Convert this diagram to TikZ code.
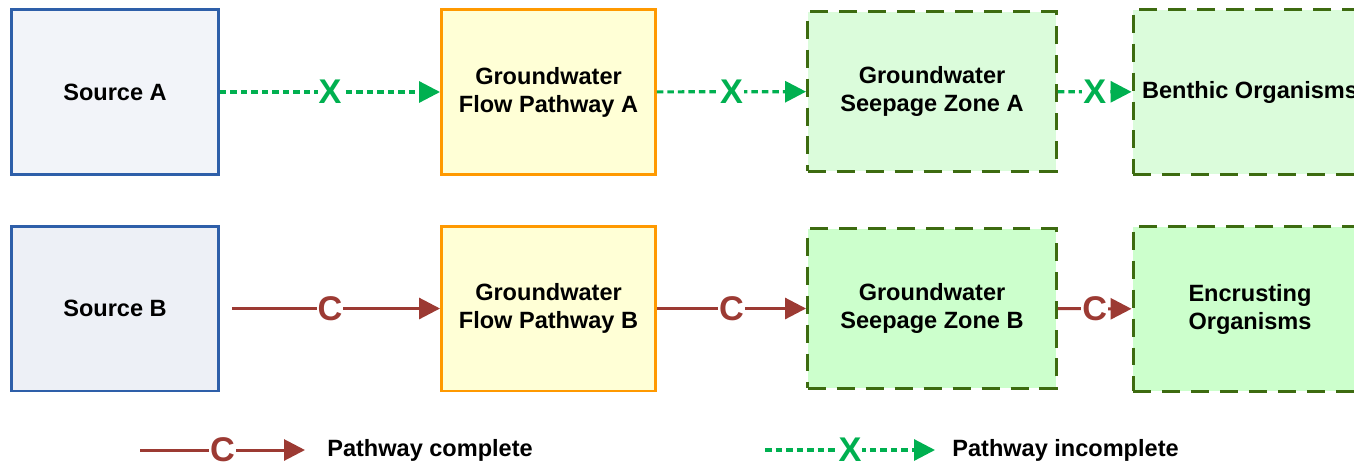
\documentclass[tikz,border=0pt]{standalone}
\usepackage{fontspec}
\setmainfont{Liberation Sans}
\usetikzlibrary{arrows.meta}

\definecolor{srcline}{HTML}{2E5FA9}
\definecolor{srcfillA}{HTML}{F2F4F9}
\definecolor{srcfillB}{HTML}{EDF0F6}
\definecolor{flowline}{HTML}{FF9900}
\definecolor{flowfill}{HTML}{FFFFD6}
\definecolor{zoneline}{HTML}{3D6B10}
\definecolor{zonefillA}{HTML}{DBFCDB}
\definecolor{zonefillB}{HTML}{CCFFCC}
\definecolor{okred}{HTML}{9C3A33}
\definecolor{nogreen}{HTML}{00B050}

\begin{document}
\begin{tikzpicture}[x=0.02cm, y=-0.02cm,
    box/.style={draw, line width=1.7pt, align=center, inner sep=0pt,
        minimum height=3.3cm, font=\bfseries\fontsize{13.4}{15.9}\selectfont},
    src/.style={box, draw=srcline, minimum width=4.14cm},
    flow/.style={box, draw=flowline, fill=flowfill, minimum width=4.28cm},
    zone/.style={box, draw=zoneline, minimum width=4.98cm, minimum height=3.2cm,
        dash pattern=on 0.36cm off 0.22cm},
    biota/.style={zone, minimum width=4.68cm, minimum height=3.3cm},
    tip/.style={-{Triangle[length=0.42cm, width=0.42cm]}},
    complete/.style={tip, draw=okred, line width=1.7pt},
    incomplete/.style={tip, draw=nogreen, line width=1.8pt, dash pattern=on 0.13cm off 0.08cm},
    mark c/.style={midway, fill=white, inner sep=0.6pt, text=okred,
        font=\bfseries\fontsize{19.5}{20}\selectfont},
    mark x/.style={mark c, text=nogreen},
    legend/.style={anchor=west, inner sep=0pt, font=\bfseries\fontsize{13.4}{15.9}\selectfont}]

    \clip (0,0) rectangle (1354,467);
    \useasboundingbox (0,0) rectangle (1354,467);

    % row A: pathway broken at every step
    \node (SA)[src, fill=srcfillA] at (115, 92) {Source A};
    \node (FA)[flow] at (548.5, 92) {Groundwater\\Flow Pathway A};
    \node (ZA)[zone, fill=zonefillA] at (932, 91.5) {Groundwater\\Seepage Zone A};
    \node (OA)[biota, fill=zonefillA] at (1250, 92) {Benthic Organisms};

    % row B: complete pathway
    \node (SB)[src, fill=srcfillB] at (115, 308.5) {Source B};
    \node (FB)[flow] at (548.5, 308.5) {Groundwater\\Flow Pathway B};
    \node (ZB)[zone, fill=zonefillB] at (932, 308.5) {Groundwater\\Seepage Zone B};
    \node (OB)[biota, fill=zonefillB] at (1250, 309) {Encrusting\\Organisms};

    \draw[incomplete] (SA) -- node[mark x] {X} (FA);
    \draw[incomplete] (FA) -- node[mark x] {X} (ZA);
    \draw[incomplete] (ZA) -- node[mark x] {X} (OA);

    \draw[complete, shorten <=0.24cm] (SB) -- node[mark c] {C} (FB);
    \draw[complete] (FB) -- node[mark c] {C} (ZB);
    \draw[complete] (ZB) -- node[mark c] {C} (OB);

    % legend
    \coordinate (LC0) at (140, 450);
    \coordinate (LC1) at (305, 450);
    \coordinate (LX0) at (765, 450);
    \coordinate (LX1) at (935, 450);
    \draw[complete] (LC0) -- node[mark c] {C} (LC1);
    \draw[incomplete] (LX0) -- node[mark x] {X} (LX1);
    \node (LCt)[legend] at (327, 450) {Pathway complete};
    \node (LXt)[legend] at (952, 450) {Pathway incomplete};

\end{tikzpicture}
\end{document}
